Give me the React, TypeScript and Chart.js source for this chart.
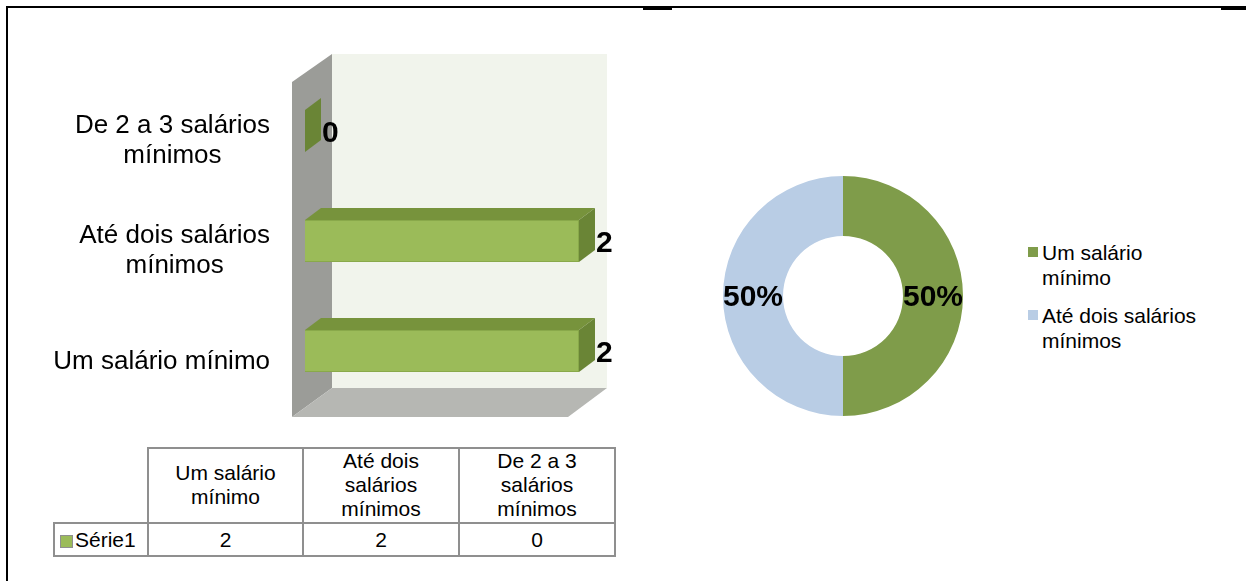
import React, { useEffect, useRef } from "react";
import { Chart, registerables } from "chart.js";

Chart.register(...registerables);

// ---------- data ----------
const categories = ["Um salário mínimo", "Até dois salários mínimos", "De 2 a 3 salários mínimos"];
const axisLabels = [["Um salário mínimo"], ["Até dois salários", "mínimos"], ["De 2 a 3 salários", "mínimos"]];
const seriesName = "Série1";
const seriesValues = [2, 2, 0];
const pieLabels = ["Um salário mínimo", "Até dois salários mínimos"];
const pieValues = [2, 2];
const pieColors = ["#7F9C4A", "#B9CDE5"];

const FONT = "Arial, 'Liberation Sans', sans-serif";

function poly(ctx: CanvasRenderingContext2D, pts: number[][], fill: string) {
  ctx.beginPath();
  ctx.moveTo(pts[0][0], pts[0][1]);
  for (let i = 1; i < pts.length; i++) ctx.lineTo(pts[i][0], pts[i][1]);
  ctx.closePath();
  ctx.fillStyle = fill;
  ctx.fill();
}

const bar3d = {
  id: "bar3d",
  beforeDatasetsDraw(chart: any) {
    const { ctx, chartArea: a } = chart;
    const L = a.left, R = a.right, T = a.top, B = a.bottom;
    ctx.save();
    ctx.fillStyle = "#F1F4EC";
    ctx.fillRect(L + 27, T - 22, R + 28 - (L + 27), B - 18 - (T - 22));
    poly(ctx, [[L - 13, T + 6], [L + 27, T - 22], [L + 27, B - 18], [L - 13, B + 11]], "#9B9C98");
    poly(ctx, [[L - 13, B + 11], [L + 27, B - 18], [R + 28, B - 18], [R - 11, B + 11]], "#B6B7B3");
    ctx.restore();
  },
  afterDatasetsDraw(chart: any) {
    const { ctx, chartArea: a } = chart;
    const meta = chart.getDatasetMeta(0);
    const dx = 16, dy = 12;
    ctx.save();
    meta.data.forEach((el: any, i: number) => {
      const { x, y, base, height } = el.getProps(["x", "y", "base", "height"], true);
      const top = y - height / 2, bot = y + height / 2;
      if (x - base > 0.5) {
        poly(ctx, [[base, top], [base + dx, top - dy], [x + dx, top - dy], [x, top]], "#77933C");
      }
      poly(ctx, [[x, top], [x + dx, top - dy], [x + dx, bot - dy], [x, bot]], "#6A8536");
      ctx.fillStyle = "#000";
      ctx.font = "bold 30px " + FONT;
      ctx.textAlign = "left";
      ctx.textBaseline = "middle";
      ctx.fillText(String(seriesValues[i]), x + dx + 1, y + 3);
    });
    // category labels
    const yScale = chart.scales.y;
    ctx.font = "26px " + FONT;
    ctx.textAlign = "center";
    ctx.textBaseline = "alphabetic";
    ctx.fillStyle = "#000";
    axisLabels.forEach((lines, i) => {
      const yc = yScale.getPixelForValue(i);
      const w = Math.max(...lines.map((l) => ctx.measureText(l).width));
      const cx = a.left - 35 - w / 2;
      const n = lines.length;
      lines.forEach((l, j) => {
        ctx.fillText(l, cx, yc + 18 + (j - (n - 1) / 2) * 30 - (n > 1 ? 1.5 : 0));
      });
    });
    ctx.restore();
  },
};

const pieLabelsPlugin = {
  id: "pieLabels",
  afterDatasetsDraw(chart: any) {
    const { ctx } = chart;
    const meta = chart.getDatasetMeta(0);
    const total = pieValues.reduce((s, v) => s + v, 0);
    ctx.save();
    ctx.font = "bold 30px " + FONT;
    ctx.fillStyle = "#000";
    ctx.textAlign = "center";
    ctx.textBaseline = "middle";
    meta.data.forEach((el: any, i: number) => {
      const p = el.getCenterPoint();
      ctx.fillText(Math.round((pieValues[i] / total) * 100) + "%", p.x, p.y + 2);
    });
    ctx.restore();
  },
};

function BarChart() {
  const ref = useRef<HTMLCanvasElement>(null);
  useEffect(() => {
    const chart = new Chart(ref.current as HTMLCanvasElement, {
      type: "bar",
      data: {
        labels: categories,
        datasets: [
          {
            label: seriesName,
            data: seriesValues,
            backgroundColor: "#9BBB59",
            borderColor: "#89A94A",
            borderWidth: 1,
            barPercentage: 1,
            categoryPercentage: 0.382,
          },
        ],
      },
      options: {
        indexAxis: "y",
        responsive: false,
        animation: false,
        layout: { padding: { left: 305, right: 61, top: 76, bottom: 34 } },
        plugins: { legend: { display: false }, tooltip: { enabled: false } },
        scales: {
          x: { display: false, min: 0, max: 2 },
          y: { display: false, reverse: true },
        },
      },
      plugins: [bar3d],
    } as any);
    return () => chart.destroy();
  }, []);
  return (
    <canvas
      ref={ref}
      width={640}
      height={440}
      style={{ position: "absolute", left: 0, top: 0, width: 640, height: 440, display: "block" }}
    />
  );
}

function PieChart() {
  const ref = useRef<HTMLCanvasElement>(null);
  useEffect(() => {
    const chart = new Chart(ref.current as HTMLCanvasElement, {
      type: "doughnut",
      data: {
        labels: pieLabels,
        datasets: [{ data: pieValues, backgroundColor: pieColors, borderWidth: 0 }],
      },
      options: {
        responsive: false,
        animation: false,
        cutout: "50%",
        layout: { padding: { left: 23, right: 23, top: 16, bottom: 16 } },
        plugins: { legend: { display: false }, tooltip: { enabled: false } },
      },
      plugins: [pieLabelsPlugin],
    } as any);
    return () => chart.destroy();
  }, []);
  return (
    <canvas
      ref={ref}
      width={286}
      height={272}
      style={{ position: "absolute", left: 700, top: 160, width: 286, height: 272, display: "block" }}
    />
  );
}

const cellBorder = "2px solid #8F8F8F";

export default function App() {
  return (
    <div
      style={{
        position: "absolute",
        left: 0,
        top: 0,
        width: 1246,
        height: 581,
        overflow: "hidden",
        background: "#fff",
        fontFamily: FONT,
      }}
    >
      {/* document frame */}
      <div style={{ position: "absolute", left: 6, top: 6, width: 2, height: 575, background: "#000" }} />
      <div style={{ position: "absolute", left: 6, top: 6, width: 1240, height: 2, background: "#000" }} />
      <div style={{ position: "absolute", left: 643, top: 7, width: 29, height: 3, background: "#000" }} />
      <div style={{ position: "absolute", left: 1221, top: 7, width: 25, height: 3, background: "#000" }} />

      <BarChart />
      <PieChart />

      {/* doughnut legend */}
      {pieLabels.map((lab, i) => (
        <div key={lab}>
          <div
            style={{
              position: "absolute",
              left: 1028,
              top: 247 + i * 63,
              width: 10,
              height: 10,
              background: pieColors[i],
            }}
          />
          <div
            style={{
              position: "absolute",
              left: 1042,
              top: 240 + i * 63,
              width: 160,
              fontSize: 21,
              lineHeight: "25px",
              color: "#000",
            }}
          >
            {lab}
          </div>
        </div>
      ))}

      {/* data table */}
      <table
        style={{
          position: "absolute",
          left: 53,
          top: 447,
          borderCollapse: "collapse",
          tableLayout: "fixed",
          fontFamily: FONT,
          fontSize: 21,
          color: "#000",
        }}
      >
        <colgroup>
          <col style={{ width: 94 }} />
          <col style={{ width: 155 }} />
          <col style={{ width: 156 }} />
          <col style={{ width: 156 }} />
        </colgroup>
        <tbody>
          <tr style={{ height: 75 }}>
            <td style={{ border: "none", padding: 0 }} />
            {categories.map((c) => (
              <td
                key={c}
                style={{
                  border: cellBorder,
                  textAlign: "center",
                  verticalAlign: "middle",
                  padding: "0 22px 1px",
                  lineHeight: "24px",
                }}
              >
                {c}
              </td>
            ))}
          </tr>
          <tr style={{ height: 33 }}>
            <td style={{ border: cellBorder, padding: "0 0 0 5px", whiteSpace: "nowrap", lineHeight: "23px" }}>
              <span
                style={{
                  display: "inline-block",
                  width: 11,
                  height: 11,
                  background: "#9BBB59",
                  border: "1px solid #8F8F8F",
                  marginRight: 2,
                  verticalAlign: "-1px",
                }}
              />
              {seriesName}
            </td>
            {seriesValues.map((v, i) => (
              <td key={i} style={{ border: cellBorder, textAlign: "center", padding: 0, lineHeight: "23px" }}>
                {v}
              </td>
            ))}
          </tr>
        </tbody>
      </table>
    </div>
  );
}
